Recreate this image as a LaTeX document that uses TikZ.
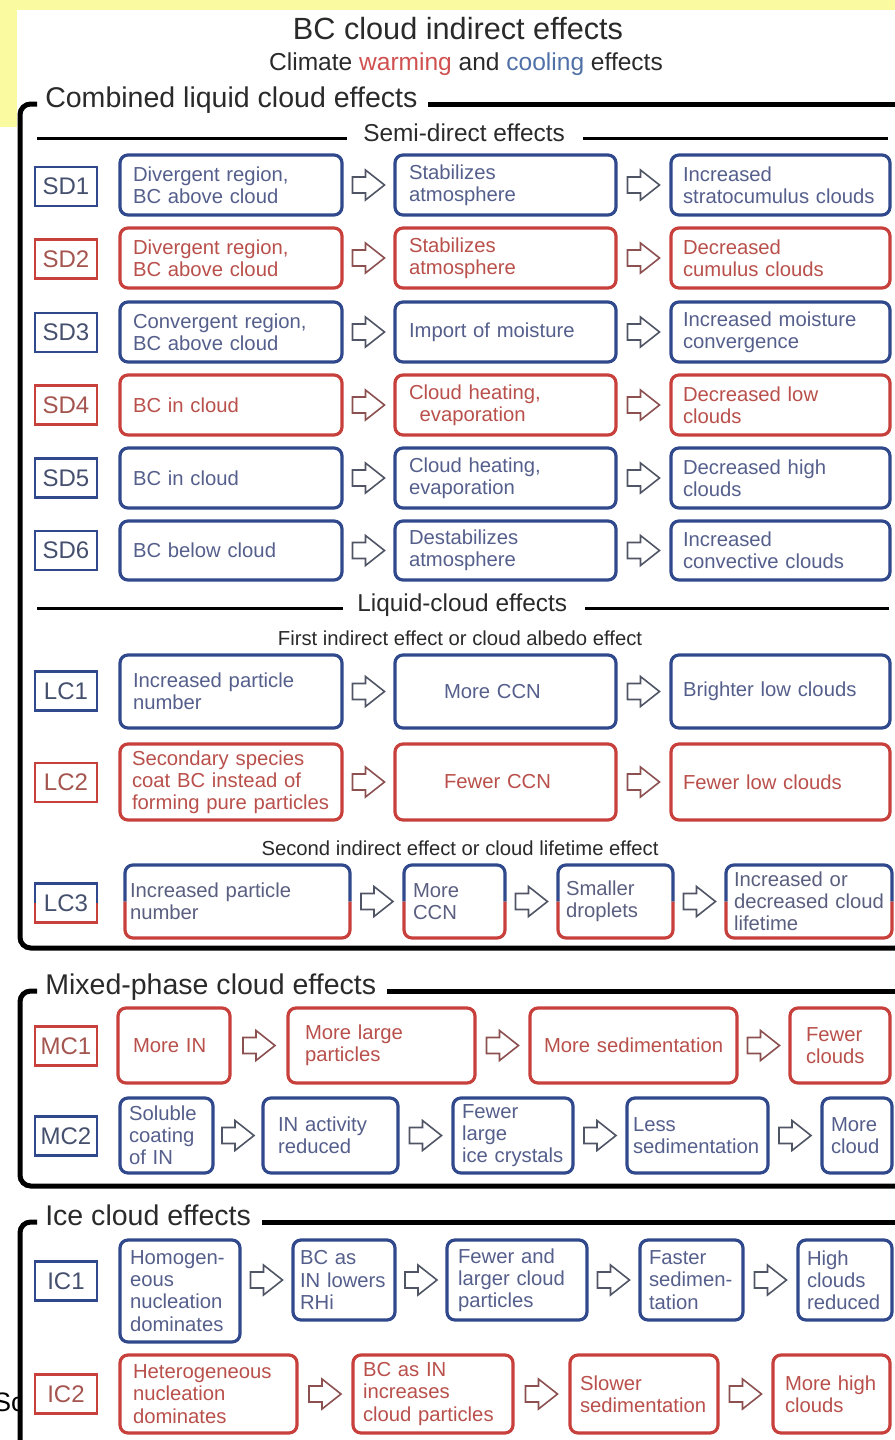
\documentclass[tikz,border=0pt]{standalone}
\usepackage{fontspec}
\setmainfont{Liberation Sans}
\usetikzlibrary{calc}
\hyphenpenalty=10000
\exhyphenpenalty=10000
\definecolor{bbox}{HTML}{30488C}
\definecolor{rbox}{HTML}{C8403C}
\definecolor{btext}{HTML}{555F8C}
\definecolor{rtext}{HTML}{B9504B}
\definecolor{bltext}{HTML}{45506E}
\definecolor{rltext}{HTML}{A55550}
\definecolor{mtext}{HTML}{5A5F80}
\definecolor{barr}{HTML}{505565}
\definecolor{rarr}{HTML}{8C5050}
\definecolor{warm}{HTML}{D05050}
\definecolor{cool}{HTML}{5070A8}
\definecolor{yellowbg}{HTML}{FAFAA0}
\definecolor{titlegray}{HTML}{2A2A2A}
\tikzset{
  bx/.style={rectangle, rounded corners=6pt, line width=2.4pt, align=left, inner ysep=0pt, outer sep=0pt, font=\fontsize{15.2}{16.6}\selectfont},
  bb/.style={bx, draw=bbox, text=btext},
  rb/.style={bx, draw=rbox, text=rtext},
  mb/.style={bx, text=mtext},
  lab/.style={rectangle, line width=2.1pt, minimum width=46.5pt, minimum height=29.25pt, inner sep=0pt, outer sep=0pt, font=\fontsize{18}{18}\selectfont},
  bl/.style={lab, draw=bbox, text=bltext},
  rl/.style={lab, draw=rbox, text=rltext},
  ml/.style={lab, text=bltext},
  frame/.style={line width=3.75pt, black},
  sepline/.style={line width=2.25pt, black},
  head/.style={font=\fontsize{21.4}{21.4}\selectfont, inner sep=0pt, text height=0.72em, text depth=0.21em, anchor=west, text=titlegray},
  sephead/.style={font=\fontsize{18.3}{18.3}\selectfont, inner sep=0pt, text height=0.72em, text depth=0.21em, anchor=west, text=titlegray},
  subhead/.style={font=\fontsize{15.2}{15.2}\selectfont, inner sep=0pt, anchor=base, text=titlegray},
  barrow/.pic={\filldraw[fill=white, line width=1.2pt, line join=miter] (-16,-8) -- (-3,-8) -- (-3,-15) -- (16,0) -- (-3,15) -- (-3,8) -- (-16,8) -- cycle;}
}
% box: name, x1, y1, x2, y2, style, left padding (px), text
\newcommand\mybox[8]{%
  \pgfmathsetmacro\myBW{(#4-#2)*0.75}%
  \pgfmathsetmacro\myBH{(#5-#3)*0.75}%
  \pgfmathsetmacro\myTW{(#4-#2-2*#7)*0.75}%
  \pgfmathsetmacro\myPX{#7*0.75}%
  \node[#6, minimum width=\myBW pt, minimum height=\myBH pt, text width=\myTW pt, inner xsep=\myPX pt] (#1) at ({(#2+#4)/2},{(#3+#5)/2}) {#8};}
% label: name, center y, style, text
\newcommand\mylab[4]{\node[#3] (#1) at (66,#2) {#4};}
% arrow between two nodes: from, to, colour
\newcommand\myarr[3]{%
  \path ($(#1.east)!0.5!(#2.west)$) coordinate (tmpm);
  \pic[color=#3] at (tmpm |- #2.west) {barrow};}
% split border (blue top, red bottom)
\newcommand\splitround[1]{%
  \draw[line width=2.4pt, draw=bbox, rounded corners=6pt] (#1.west) -- (#1.north west) -- (#1.north east) -- (#1.east);
  \draw[line width=2.4pt, draw=rbox, rounded corners=6pt] (#1.east) -- (#1.south east) -- (#1.south west) -- (#1.west);}
\newcommand\splitsquare[1]{%
  \draw[line width=2.1pt, draw=bbox] (#1.west) -- (#1.north west) -- (#1.north east) -- (#1.east);
  \draw[line width=2.1pt, draw=rbox] (#1.east) -- (#1.south east) -- (#1.south west) -- (#1.west);}
\begin{document}
\begin{tikzpicture}[x=0.75pt,y=-0.75pt]
\useasboundingbox (0,0) rectangle (895,1440);
\clip (0,0) rectangle (895,1440);
\fill[white] (0,0) rectangle (895,1440);
\fill[yellowbg] (0,0) rectangle (895,10);
\fill[yellowbg] (0,0) rectangle (17,127);

% titles
\node[anchor=base, font=\fontsize{23}{23}\selectfont, inner sep=0pt, text=titlegray] (title) at (458,39) {BC cloud indirect effects};
\node[anchor=base, font=\fontsize{18.4}{18.4}\selectfont, inner sep=0pt, text=titlegray] (subtitle) at (466,70) {Climate \textcolor{warm}{warming} and \textcolor{cool}{cooling} effects};

% ---------- Frame 1: combined liquid cloud effects
\node[head] (h1) at (45,104) {Combined liquid cloud effects};
\draw[frame, rounded corners=8pt] ([xshift=-6pt]h1.west) -- (20,104) -- (20,948) -- (897,948);
\draw[frame] ([xshift=8pt]h1.east) -- ++(600,0);

\node[sephead] (s1) at (363,138) {Semi-direct effects};
\draw[sepline] (37,138) -- ([xshift=-12pt]s1.west);
\draw[sepline] ([xshift=13.5pt]s1.east) -- (888,138);

% SD rows
\mylab{sd1}{186.5}{bl}{SD1}
\mybox{sd1a}{120}{155}{342}{215}{bb}{13}{Divergent region,\\BC above cloud}
\mybox{sd1b}{395}{155}{616}{215}{bb}{14}{Stabilizes\\atmosphere}
\mybox{sd1c}{671}{155}{890}{215}{bb}{12}{Increased\\stratocumulus clouds}
\myarr{sd1a}{sd1b}{barr}\myarr{sd1b}{sd1c}{barr}

\mylab{sd2}{259}{rl}{SD2}
\mybox{sd2a}{120}{228}{342}{288}{rb}{13}{Divergent region,\\BC above cloud}
\mybox{sd2b}{395}{228}{616}{288}{rb}{14}{Stabilizes\\atmosphere}
\mybox{sd2c}{671}{228}{890}{288}{rb}{12}{Decreased\\cumulus clouds}
\myarr{sd2a}{sd2b}{rarr}\myarr{sd2b}{sd2c}{rarr}

\mylab{sd3}{332.5}{bl}{SD3}
\mybox{sd3a}{120}{302}{342}{362}{bb}{13}{Convergent region,\\BC above cloud}
\mybox{sd3b}{395}{302}{616}{362}{bb}{14}{Import of moisture}
\mybox{sd3c}{671}{302}{890}{362}{bb}{12}{Increased moisture\\convergence}
\myarr{sd3a}{sd3b}{barr}\myarr{sd3b}{sd3c}{barr}

\mylab{sd4}{405}{rl}{SD4}
\mybox{sd4a}{120}{375}{342}{435}{rb}{13}{BC in cloud}
\mybox{sd4b}{395}{375}{616}{435}{rb}{14}{Cloud heating,\\\hspace*{8pt}evaporation}
\mybox{sd4c}{671}{375}{890}{435}{rb}{12}{Decreased low\\clouds}
\myarr{sd4a}{sd4b}{rarr}\myarr{sd4b}{sd4c}{rarr}

\mylab{sd5}{478}{bl}{SD5}
\mybox{sd5a}{120}{448}{342}{508}{bb}{13}{BC in cloud}
\mybox{sd5b}{395}{448}{616}{508}{bb}{14}{Cloud heating,\\evaporation}
\mybox{sd5c}{671}{448}{890}{508}{bb}{12}{Decreased high\\clouds}
\myarr{sd5a}{sd5b}{barr}\myarr{sd5b}{sd5c}{barr}

\mylab{sd6}{550.5}{bl}{SD6}
\mybox{sd6a}{120}{521}{342}{580}{bb}{13}{BC below cloud}
\mybox{sd6b}{395}{521}{616}{580}{bb}{14}{Destabilizes\\atmosphere}
\mybox{sd6c}{671}{521}{890}{580}{bb}{12}{Increased\\convective clouds}
\myarr{sd6a}{sd6b}{barr}\myarr{sd6b}{sd6c}{barr}

% Liquid-cloud effects
\node[sephead] (s2) at (357,608) {Liquid-cloud effects};
\draw[sepline] (37,608) -- ([xshift=-10.5pt]s2.west);
\draw[sepline] ([xshift=13.5pt]s2.east) -- (889,608);
\node[subhead] (fie) at (460,645) {First indirect effect or cloud albedo effect};

\mylab{lc1}{691}{bl}{LC1}
\mybox{lc1a}{120}{655}{342}{728}{bb}{13}{Increased particle\\number}
\mybox{lc1b}{395}{655}{616}{728}{bb}{49}{More CCN}
\mybox{lc1c}{671}{655}{890}{728}{bb}{12}{Brighter low clouds}
\myarr{lc1a}{lc1b}{barr}\myarr{lc1b}{lc1c}{barr}

\mylab{lc2}{782.5}{rl}{LC2}
\mybox{lc2a}{120}{744}{342}{820}{rb}{12}{Secondary species\\coat BC instead of\\\mbox{forming pure particles}}
\mybox{lc2b}{395}{744}{616}{820}{rb}{49}{Fewer CCN}
\mybox{lc2c}{671}{744}{890}{820}{rb}{12}{Fewer low clouds}
\myarr{lc2a}{lc2b}{rarr}\myarr{lc2b}{lc2c}{rarr}

\node[subhead] (sie) at (460,855) {Second indirect effect or cloud lifetime effect};

\mylab{lc3}{903}{ml}{LC3}
\splitsquare{lc3}
\mybox{lc3a}{125}{865}{350}{938}{mb}{5}{Increased particle\\number}
\mybox{lc3b}{404}{865}{505}{938}{mb}{9}{More\\CCN}
\mybox{lc3c}{558}{865}{673}{938}{mb}{8}{Smaller\\droplets}
\mybox{lc3d}{726}{865}{892}{938}{mb}{8}{Increased or\\\mbox{decreased cloud}\\lifetime}
\splitround{lc3a}\splitround{lc3b}\splitround{lc3c}\splitround{lc3d}
\myarr{lc3a}{lc3b}{barr}\myarr{lc3b}{lc3c}{barr}\myarr{lc3c}{lc3d}{barr}

% ---------- Frame 2: mixed-phase
\node[head] (h2) at (45,991) {Mixed-phase cloud effects};
\draw[frame, rounded corners=8pt] ([xshift=-6pt]h2.west) -- (20,991) -- (20,1186) -- (897,1186);
\draw[frame] ([xshift=8pt]h2.east) -- ++(700,0);

\mylab{mc1}{1046}{rl}{MC1}
\mybox{mc1a}{118}{1008}{230}{1083}{rb}{15}{More IN}
\mybox{mc1b}{288}{1008}{475}{1083}{rb}{17}{More large\\particles}
\mybox{mc1c}{530}{1008}{737}{1083}{rb}{14}{\mbox{More sedimentation}}
\mybox{mc1d}{790}{1008}{890}{1083}{rb}{16}{Fewer\\clouds}
\myarr{mc1a}{mc1b}{rarr}\myarr{mc1b}{mc1c}{rarr}\myarr{mc1c}{mc1d}{rarr}

\mylab{mc2}{1136}{bl}{MC2}
\mybox{mc2a}{120}{1098}{213}{1173}{bb}{9}{Soluble\\coating\\of IN}
\mybox{mc2b}{263}{1098}{398}{1173}{bb}{15}{IN activity\\reduced}
\mybox{mc2c}{453}{1098}{573}{1173}{bb}{9}{Fewer\\large\\\mbox{ice crystals}}
\mybox{mc2d}{627}{1098}{768}{1173}{bb}{6}{Less\\sedimentation}
\mybox{mc2e}{822}{1098}{892}{1173}{bb}{9}{More\\cloud}
\myarr{mc2a}{mc2b}{barr}\myarr{mc2b}{mc2c}{barr}\myarr{mc2c}{mc2d}{barr}\myarr{mc2d}{mc2e}{barr}

% ---------- Frame 3: ice
\node[head] (h3) at (45,1222) {Ice cloud effects};
\draw[frame, rounded corners=8pt] ([xshift=-6pt]h3.west) -- (20,1222) -- (20,1460);
\draw[frame] ([xshift=8pt]h3.east) -- ++(800,0);

\mylab{ic1}{1281}{bl}{IC1}
\mybox{ic1a}{120}{1240}{240}{1342}{bb}{10}{\mbox{Homogen-}\\eous\\nucleation\\dominates}
\mybox{ic1b}{293}{1240}{395}{1320}{bb}{7}{BC as\\\mbox{IN lowers}\\RHi}
\mybox{ic1c}{447}{1240}{587}{1320}{bb}{11}{Fewer and\\larger cloud\\particles}
\mybox{ic1d}{640}{1240}{743}{1320}{bb}{9}{Faster\\\mbox{sedimen-}\\tation}
\mybox{ic1e}{798}{1240}{892}{1320}{bb}{9}{High\\clouds\\reduced}
\myarr{ic1a}{ic1b}{barr}\myarr{ic1b}{ic1c}{barr}\myarr{ic1c}{ic1d}{barr}\myarr{ic1d}{ic1e}{barr}

\mylab{ic2}{1394}{rl}{IC2}
\mybox{ic2a}{120}{1355}{297}{1433}{rb}{13}{Heterogeneous\\nucleation\\dominates}
\mybox{ic2b}{353}{1355}{513}{1433}{rb}{10}{BC as IN\\increases\\cloud particles}
\mybox{ic2c}{570}{1355}{718}{1433}{rb}{10}{Slower\\sedimentation}
\mybox{ic2d}{773}{1355}{890}{1433}{rb}{12}{More high\\clouds}
\myarr{ic2a}{ic2b}{rarr}\myarr{ic2b}{ic2c}{rarr}\myarr{ic2c}{ic2d}{rarr}

% stray overlay text at lower left
\begin{scope}
\clip (-10,1370) rectangle (17,1440);
\node[anchor=base west, inner sep=0pt, font=\fontsize{20}{20}\selectfont] (sc) at (-7,1411) {Sc};
\end{scope}
\end{tikzpicture}
\end{document}
